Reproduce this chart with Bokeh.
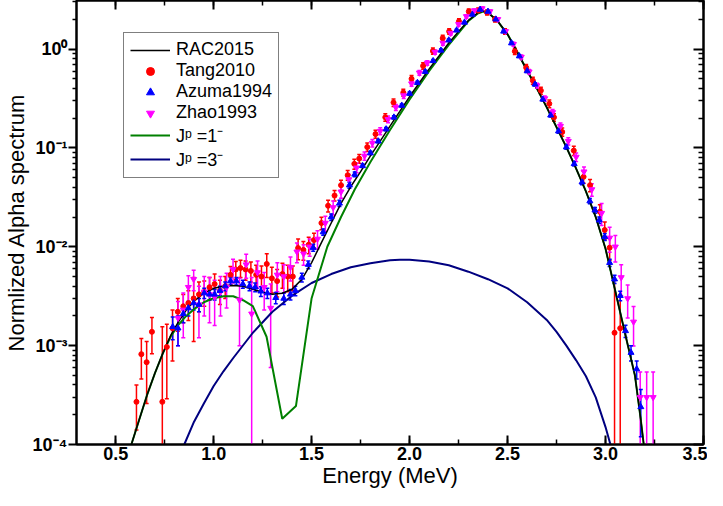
from bokeh.plotting import figure
from bokeh.models import (ColumnDataSource, Range1d, LinearAxis, LogAxis, FixedTicker,
                          SingleIntervalTicker, Whisker, TeeHead, Legend, LegendItem,
                          CustomJSTickFormatter, PrintfTickFormatter)
from bokeh.embed import file_html
from bokeh.resources import INLINE

# ---------------- data ----------------
rac_E = [0.58, 0.62, 0.66, 0.70, 0.74, 0.78, 0.82, 0.86, 0.90, 0.95, 1.00, 1.05, 1.10, 1.15, 1.20,
         1.25, 1.30, 1.35, 1.40, 1.45, 1.50, 1.55, 1.60, 1.65, 1.70, 1.75, 1.80, 1.85, 1.90, 1.95,
         2.00, 2.05, 2.10, 2.15, 2.20, 2.25, 2.30, 2.35, 2.375, 2.40, 2.45, 2.50, 2.55, 2.60, 2.65,
         2.70, 2.75, 2.80, 2.85, 2.90, 2.95, 3.00, 3.05, 3.10, 3.15, 3.18, 3.195]
rac_Y = [1.0e-4, 1.78e-4, 3.16e-4, 5.25e-4, 8.3e-4, 1.26e-3, 1.74e-3, 2.29e-3, 2.82e-3, 3.39e-3,
         3.80e-3, 3.98e-3, 4.07e-3, 3.98e-3, 3.72e-3, 3.47e-3, 3.31e-3, 3.39e-3, 3.72e-3, 4.68e-3,
         6.92e-3, 1.10e-2, 1.74e-2, 2.75e-2, 4.07e-2, 5.75e-2, 8.32e-2, 0.117, 0.166, 0.234,
         0.331, 0.457, 0.631, 0.851, 1.15, 1.51, 1.95, 2.34, 2.43, 2.34, 1.91, 1.41, 0.933, 0.603,
         0.398, 0.257, 0.162, 0.102, 0.0617, 0.0363, 0.0200, 9.55e-3, 3.55e-3, 1.32e-3, 5.0e-4,
         1.78e-4, 1.0e-4]

j1_E = [0.58, 0.62, 0.66, 0.70, 0.74, 0.78, 0.82, 0.86, 0.90, 0.95, 1.00, 1.05, 1.10, 1.15, 1.20,
        1.27, 1.35, 1.42, 1.50, 1.58, 1.65, 1.72, 1.80, 1.90, 2.00, 2.10, 2.20, 2.30, 2.35, 2.375,
        2.40, 2.45, 2.50, 2.55, 2.60, 2.65, 2.70, 2.75, 2.80, 2.85, 2.90, 2.95, 3.00, 3.05, 3.10,
        3.15, 3.18, 3.195]
j1_Y = [1.0e-4, 1.78e-4, 3.16e-4, 5.25e-4, 8.3e-4, 1.23e-3, 1.62e-3, 2.0e-3, 2.34e-3, 2.75e-3,
        3.02e-3, 3.16e-3, 3.16e-3, 2.88e-3, 2.51e-3, 1.23e-3, 1.82e-4, 2.45e-4, 3.02e-3, 1.0e-2,
        2.0e-2, 3.8e-2, 7.2e-2, 0.152, 0.310, 0.600, 1.10, 1.92, 2.30, 2.40, 2.34, 1.91, 1.41,
        0.933, 0.603, 0.398, 0.257, 0.162, 0.102, 0.0617, 0.0363, 0.0200, 9.55e-3, 3.55e-3,
        1.32e-3, 5.0e-4, 1.78e-4, 1.0e-4]

j3_E = [0.85, 0.90, 0.95, 1.00, 1.05, 1.10, 1.20, 1.30, 1.40, 1.50, 1.60, 1.70, 1.80, 1.90, 1.95,
        2.00, 2.10, 2.20, 2.30, 2.40, 2.50, 2.60, 2.70, 2.75, 2.80, 2.85, 2.90, 2.95, 3.00, 3.025]
j3_Y = [1.0e-4, 1.7e-4, 2.6e-4, 3.9e-4, 5.5e-4, 7.5e-4, 1.35e-3, 2.2e-3, 3.2e-3, 4.3e-3, 5.3e-3,
        6.2e-3, 6.8e-3, 7.3e-3, 7.4e-3, 7.4e-3, 7.1e-3, 6.5e-3, 5.6e-3, 4.7e-3, 3.8e-3, 2.75e-3,
        1.82e-3, 1.38e-3, 1.0e-3, 7.1e-4, 4.9e-4, 3.0e-4, 1.5e-4, 1.0e-4]

tang_E = [0.606, 0.631, 0.658, 0.685, 0.738, 0.761, 0.790, 0.817, 0.845, 0.871,
          0.898, 0.925, 0.952, 0.979, 1.005, 1.032, 1.059, 1.086, 1.113, 1.137,
          1.163, 1.190, 1.217, 1.244, 1.271, 1.297, 1.324, 1.351, 1.378, 1.404,
          1.431, 1.458, 1.485, 1.512,
          1.550, 1.584, 1.617, 1.650, 1.684, 1.718, 1.743, 1.784, 1.826, 1.876,
          1.918, 1.968, 2.010, 2.069, 2.119, 2.169, 2.202, 2.252, 2.302, 2.350,
          2.395, 2.436, 2.487, 2.537, 2.595, 2.629, 2.670, 2.713, 2.737, 2.779,
          2.838, 2.888, 2.921, 2.971, 2.996, 3.021, 3.046, 3.075]
tang_Y = [2.7e-4, 8.2e-4, 6.8e-4, 1.38e-3, 2.7e-4, 9.7e-4, 1.5e-3, 2.2e-3, 2.5e-3, 2.7e-3,
          3.0e-3, 3.3e-3, 3.5e-3, 3.9e-3, 4.2e-3, 3.6e-3, 4.0e-3, 5.2e-3, 5.9e-3, 6.1e-3,
          5.9e-3, 5.7e-3, 5.2e-3, 5.0e-3, 6.7e-3, 4.8e-3, 4.5e-3, 5.3e-3, 5.0e-3, 5.0e-3,
          9.7e-3, 9.3e-3, 1.05e-2, 1.17e-2,
          1.74e-2, 2.6e-2, 3.3e-2, 4.2e-2, 5.3e-2, 6.9e-2, 7.8e-2, 0.102, 0.138, 0.204,
          0.288, 0.363, 0.50, 0.676, 0.955, 1.29, 1.51, 1.91, 2.40, 2.45,
          2.35, 2.0, 1.51, 0.95, 0.65, 0.48, 0.38, 0.28, 0.204, 0.145,
          0.094, 0.051, 0.042, 0.0226, 0.0148, 0.0098, 1.35e-3, 1.5e-3]
tang_err = [1.3e-4, 3.6e-4, 4.2e-4, 5.5e-4, 1.28e-3, 6.8e-4, 8e-4, 8e-4, 8e-4, 9e-4,
            1.9e-3, 1.1e-3, 1.0e-3, 1.0e-3, 1.1e-3, 1.0e-3, 1.0e-3, 1.1e-3, 1.2e-3, 1.2e-3,
            1.3e-3, 1.3e-3, 1.3e-3, 1.4e-3, 1.8e-3, 1.4e-3, 1.4e-3, 1.5e-3, 1.5e-3, 1.4e-3,
            2.3e-3, 2.0e-3, 2.0e-3, 2.0e-3,
            2.5e-3, 3.5e-3, 4e-3, 5e-3, 6e-3, 8e-3, 8e-3, 0.01, 0.013, 0.018,
            0.025, 0.03, 0.04, 0.05, 0.07, 0.09, 0.1, 0.12, 0.14, 0.15,
            0.14, 0.12, 0.1, 0.07, 0.05, 0.04, 0.03, 0.025, 0.018, 0.014,
            0.01, 0.007, 0.006, 0.004, 0.003, 0.0025, 3.3e-3, 1.8e-3]

azuma_E = [0.791, 0.818, 0.845, 0.871, 0.898, 0.925, 0.952, 0.979, 1.005, 1.032,
           1.059, 1.086, 1.116, 1.149, 1.183, 1.212, 1.241, 1.274, 1.317, 1.358,
           1.392, 1.417, 1.450, 1.483, 1.508, 1.559, 1.600, 1.642, 1.693, 1.720,
           1.76, 1.80, 1.84, 1.88, 1.92, 1.96, 2.00, 2.04, 2.08, 2.12,
           2.16, 2.20, 2.24, 2.28, 2.32, 2.36, 2.40, 2.44, 2.48, 2.52,
           2.56, 2.60, 2.64, 2.68, 2.72, 2.76, 2.80, 2.84, 2.88, 2.92,
           2.946, 2.968, 2.996, 3.021, 3.046, 3.075, 3.102, 3.13, 3.159, 3.18]
azuma_Y = [1.55e-3, 1.5e-3, 2.1e-3, 2.4e-3, 2.7e-3, 2.6e-3, 3.4e-3, 3.3e-3, 3.3e-3, 3.6e-3,
           4.0e-3, 4.5e-3, 4.5e-3, 4.2e-3, 4.0e-3, 3.9e-3, 3.55e-3, 3.4e-3, 3.05e-3, 3.0e-3,
           3.3e-3, 3.6e-3, 4.9e-3, 6.6e-3, 9.8e-3, 1.41e-2, 2.0e-2, 2.75e-2, 4.2e-2, 5.4e-2,
           6.6e-2, 8.9e-2, 0.117, 0.155, 0.204, 0.269, 0.355, 0.457, 0.59, 0.76,
           0.97, 1.23, 1.55, 1.86, 2.24, 2.51, 2.40, 2.0, 1.51, 1.15,
           0.85, 0.60, 0.44, 0.31, 0.214, 0.148, 0.102, 0.069, 0.045, 0.029,
           0.0234, 0.0186, 0.0126, 6.9e-3, 4.7e-3, 3.2e-3, 1.41e-3, 8.5e-4, 5.8e-4, 2.4e-4]
azuma_err = [4e-4, 5e-4, 4e-4, 4e-4, 4e-4, 4e-4, 4e-4, 4e-4, 4e-4, 4e-4,
             4e-4, 4e-4, 4e-4, 4e-4, 4e-4, 4e-4, 4e-4, 4e-4, 4e-4, 4e-4,
             4e-4, 4e-4, 5e-4, 6e-4, 8e-4, 1e-3, 1.5e-3, 2e-3, 3e-3, 3e-3,
             2.6e-3, 3.5e-3, 4.5e-3, 6e-3, 8e-3, 0.01, 0.013, 0.016, 0.02, 0.025,
             0.03, 0.035, 0.04, 0.045, 0.05, 0.055, 0.05, 0.045, 0.04, 0.035,
             0.028, 0.02, 0.016, 0.012, 0.009, 0.007, 0.005, 0.0035, 0.0025, 0.0018,
             0.0016, 0.0014, 0.001, 6e-4, 4.5e-4, 3.5e-4, 2e-4, 1.5e-4, 1.2e-4, 1.2e-4]

zhao_E = [0.818, 0.845, 0.871, 0.898, 0.925, 0.952, 0.979, 1.005, 1.035, 1.066,
          1.099, 1.132, 1.166, 1.194, 1.224, 1.258, 1.291, 1.325, 1.358, 1.392,
          1.425, 1.459, 1.490,
          1.53, 1.57, 1.61, 1.65, 1.69, 1.73, 1.77, 1.81, 1.85, 1.89,
          1.93, 1.97, 2.01, 2.05, 2.09, 2.13, 2.17, 2.21, 2.25, 2.29,
          2.33, 2.37, 2.41, 2.45, 2.49, 2.53, 2.57, 2.61, 2.65, 2.69,
          2.73, 2.77, 2.81, 2.85, 2.89, 2.93, 2.98, 3.021, 3.05, 3.08,
          3.113, 3.143, 3.177, 3.21, 3.243]
zhao_Y = [1.9e-3, 2.3e-3, 3.9e-3, 4.7e-3, 2.6e-3, 3.5e-3, 3.3e-3, 3.1e-3, 3.5e-3, 3.9e-3,
          5.9e-3, 2.9e-3, 6.6e-3, 2.1e-3, 5.5e-3, 3.9e-3, 2.4e-3, 5.2e-3, 5.0e-3, 6.2e-3,
          8.9e-3, 8.5e-3, 1.0e-2,
          1.2e-2, 1.74e-2, 2.5e-2, 3.6e-2, 4.8e-2, 6.3e-2, 8.3e-2, 0.112, 0.148, 0.195,
          0.257, 0.339, 0.447, 0.575, 0.724, 0.933, 1.15, 1.45, 1.78, 2.14,
          2.45, 2.57, 2.40, 2.0, 1.51, 1.12, 0.83, 0.59, 0.427, 0.316,
          0.229, 0.166, 0.117, 0.081, 0.0575, 0.038, 0.0219, 0.0123, 0.010, 4.9e-3,
          3.0e-3, 1.74e-3, 3.0e-4, 3.0e-4, 3.0e-4]
zhao_err = [9e-4, 1.1e-3, 1.2e-3, 1.1e-3, 1.4e-3, 1.5e-3, 1.6e-3, 1.5e-3, 1.5e-3, 1.5e-3,
            1.6e-3, 1.9e-3, 1.8e-3, 2.8e-3, 1.7e-3, 1.6e-3, 1.8e-3, 1.7e-3, 1.6e-3, 1.7e-3,
            2.0e-3, 2.0e-3, 2.0e-3,
            2.5e-3, 3e-3, 4e-3, 5e-3, 6e-3, 7e-3, 8e-3, 0.01, 0.012, 0.015,
            0.018, 0.022, 0.027, 0.032, 0.038, 0.045, 0.055, 0.065, 0.075, 0.085,
            0.09, 0.09, 0.085, 0.075, 0.06, 0.05, 0.04, 0.032, 0.025, 0.02,
            0.016, 0.013, 0.01, 0.008, 0.0065, 0.0055, 0.0055, 0.0035, 0.003, 0.0017,
            1.1e-3, 7.5e-4, 2.4e-4, 2.4e-4, 2.4e-4]

legend_labels = ["RAC2015", "Tang2010", "Azuma1994", "Zhao1993", "J\u1d56 =1\u207b", "J\u1d56 =3\u207b"]
x_label = "Energy (MeV)"
y_label = "Normlized Alpha spectrum"

# ---------------- figure ----------------
FONT = "Liberation Sans"
p = figure(width=707, height=490, output_backend="svg", toolbar_location=None,
           y_axis_type="log", x_range=Range1d(0.3, 3.5), y_range=Range1d(1e-4, 3.1),
           min_border_left=0, min_border_right=4, min_border_top=0, min_border_bottom=0,
           x_axis_label=x_label, y_axis_label=y_label)
p.grid.visible = False
p.outline_line_color = "black"
p.outline_line_width = 2
p.background_fill_color = "white"
p.border_fill_color = "white"

y_major = [1e-4, 1e-3, 1e-2, 1e-1, 1.0]
y_minor = [m * d for d in y_major for m in range(2, 10) if m * d <= 3.1]
yticker = FixedTicker(ticks=y_major, minor_ticks=y_minor)
xticker = SingleIntervalTicker(interval=0.5, num_minor_ticks=2)

sup_fmt = CustomJSTickFormatter(code="""
const e = Math.round(Math.log10(tick));
const sup = {'-':'\u207b','0':'\u2070','1':'\u00b9','2':'\u00b2','3':'\u00b3','4':'\u2074'};
return '10' + String(e).split('').map(c => sup[c]).join('');
""")
blank_fmt = CustomJSTickFormatter(code="return '';")

xa = p.xaxis[0]
xa.ticker = xticker
xa.formatter = PrintfTickFormatter(format="%.1f")
xa.major_tick_in = 9; xa.major_tick_out = 0
xa.minor_tick_in = 5; xa.minor_tick_out = 0
xa.major_label_standoff = 2
xa.axis_label_standoff = 0

ya = p.yaxis[0]
ya.ticker = yticker
ya.formatter = sup_fmt
ya.major_tick_in = 0; ya.major_tick_out = 8
ya.minor_tick_in = 0; ya.minor_tick_out = 4
ya.major_label_standoff = 1
ya.axis_label_standoff = 1

for ax in (xa, ya):
    ax.axis_line_width = 2
    ax.major_tick_line_width = 2
    ax.minor_tick_line_width = 1.5
    ax.major_label_text_font = FONT
    ax.major_label_text_font_style = "bold"
    ax.major_label_text_font_size = "18px"
    ax.major_label_text_color = "black"
    ax.axis_label_text_font = FONT
    ax.axis_label_text_font_style = "normal"
    ax.axis_label_text_font_size = "22px"
    ax.axis_label_text_color = "black"

top = LinearAxis(ticker=xticker, formatter=blank_fmt, major_tick_in=9, major_tick_out=0,
                 minor_tick_in=5, minor_tick_out=0, axis_line_width=2,
                 major_tick_line_width=2, minor_tick_line_width=1.5,
                 major_label_standoff=0, major_label_text_font_size="1px")
p.add_layout(top, "above")
right = LogAxis(ticker=yticker, formatter=blank_fmt, major_tick_in=10, major_tick_out=0,
                minor_tick_in=5, minor_tick_out=0, axis_line_width=2,
                major_tick_line_width=2, minor_tick_line_width=1.5,
                major_label_standoff=0, major_label_text_font_size="1px")
p.add_layout(right, "right")

# ---------------- curves ----------------
r_j3 = p.line(j3_E, j3_Y, line_color="#000080", line_width=2)
r_j1 = p.line(j1_E, j1_Y, line_color="#008000", line_width=2)
r_rac = p.line(rac_E, rac_Y, line_color="black", line_width=1.5)


def data_set(E, Y, err, color, marker, size):
    lower = [max(y - e, 1e-6) for y, e in zip(Y, err)]
    upper = [y + e for y, e in zip(Y, err)]
    src = ColumnDataSource(dict(x=E, y=Y, lo=lower, up=upper))
    w = Whisker(source=src, base="x", lower="lo", upper="up", line_color=color, line_width=1.5,
                upper_head=TeeHead(size=4, line_color=color, line_width=1.5),
                lower_head=TeeHead(size=4, line_color=color, line_width=1.5))
    p.add_layout(w)
    return p.scatter("x", "y", source=src, marker=marker, size=size,
                     fill_color=color, line_color=color)


r_tang = data_set(tang_E, tang_Y, tang_err, "#ff0000", "circle", 5)
r_zhao = data_set(zhao_E, zhao_Y, zhao_err, "#ff00ff", "inverted_triangle", 6)
r_azuma = data_set(azuma_E, azuma_Y, azuma_err, "#0000ff", "triangle", 6)

legend = Legend(items=[
    LegendItem(label=legend_labels[0], renderers=[r_rac]),
    LegendItem(label=legend_labels[1], renderers=[r_tang]),
    LegendItem(label=legend_labels[2], renderers=[r_azuma]),
    LegendItem(label=legend_labels[3], renderers=[r_zhao]),
    LegendItem(label=legend_labels[4], renderers=[r_j1]),
    LegendItem(label=legend_labels[5], renderers=[r_j3]),
], location=(47, 266))
legend.border_line_color = "black"
legend.border_line_width = 1.5
legend.background_fill_color = "white"
legend.background_fill_alpha = 1
legend.padding = 6
legend.spacing = 0
legend.margin = 0
legend.glyph_width = 40
legend.glyph_height = 20
legend.label_height = 20
legend.label_standoff = 6
legend.label_text_font = FONT
legend.label_text_font_size = "18px"
legend.label_text_color = "black"
p.add_layout(legend)

open("out.html", "w").write(file_html(p, INLINE))
